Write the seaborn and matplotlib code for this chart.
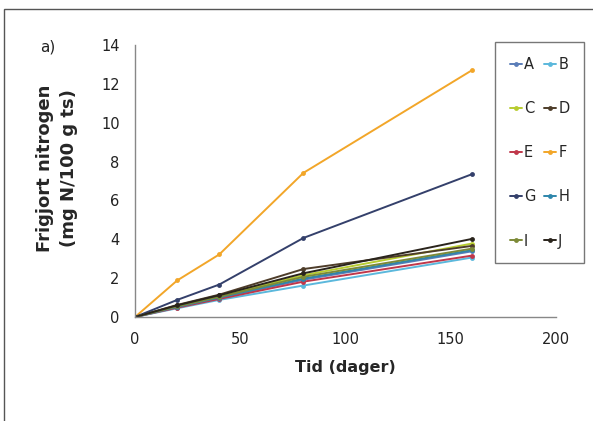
import pandas as pd
import matplotlib.pyplot as plt
import seaborn as sns
from matplotlib.patches import Rectangle

days = [0, 20, 40, 80, 160]
series_names = ["A", "B", "C", "D", "E", "F", "G", "H", "I", "J"]

A = [0, 0.50, 0.98, 1.92, 3.38]
B = [0, 0.45, 0.88, 1.62, 3.06]
C = [0, 0.58, 1.08, 2.15, 3.78]
D = [0, 0.62, 1.15, 2.47, 3.66]
E = [0, 0.48, 0.93, 1.82, 3.16]
F = [0, 1.88, 3.22, 7.42, 12.70]
G = [0, 0.88, 1.67, 4.07, 7.35]
H = [0, 0.52, 1.00, 1.98, 3.44]
I = [0, 0.55, 1.04, 2.07, 3.52]
J = [0, 0.60, 1.12, 2.25, 4.02]

colors = ["#5a7db8", "#5bb8dc", "#b8cc30", "#4e3d2a", "#c0374a",
          "#f2a629", "#34406b", "#2e86ab", "#7d8a38", "#2a241c"]

values = [A, B, C, D, E, F, G, H, I, J]
df = pd.DataFrame({
    "Tid": days * len(series_names),
    "N": [v for vals in values for v in vals],
    "serie": [s for s in series_names for _ in days],
})

sns.set_style("white")
plt.rcParams["font.family"] = ["DejaVu Sans"]

fig = plt.figure(figsize=(5.93, 4.21), dpi=100)
ax = fig.add_axes([0.2277, 0.247, 0.71, 0.646])

sns.lineplot(data=df, x="Tid", y="N", hue="serie", palette=colors,
             marker="o", markersize=3.5, markeredgewidth=0, linewidth=1.4,
             ax=ax)

ax.set_xlim(0, 200)
ax.set_ylim(0, 14)
ax.set_xticks(range(0, 201, 50))
ax.set_yticks(range(0, 15, 2))
ax.tick_params(axis="both", direction="out", length=5, width=1,
               color="#888888", labelsize=10.5, labelcolor="#222222", pad=6)
for side in ["top", "right"]:
    ax.spines[side].set_visible(False)
for side in ["left", "bottom"]:
    ax.spines[side].set_color("#888888")
    ax.spines[side].set_linewidth(1)

ax.set_xlabel("Tid (dager)", fontsize=11.5, fontweight="bold", labelpad=9)
ax.set_ylabel("Frigjort nitrogen\n(mg N/100 g ts)", fontsize=13,
              fontweight="bold", labelpad=17, linespacing=1.4)
ax.yaxis.label.set_y(0.548)

# legend filled row by row like the original (A B / C D / ...)
handles, labels = ax.get_legend_handles_labels()
order = [0, 2, 4, 6, 8, 1, 3, 5, 7, 9]
leg = ax.legend([handles[i] for i in order], [labels[i] for i in order],
                ncol=2, loc="upper left", bbox_to_anchor=(0.838, 1.037),
                frameon=True, fontsize=10.5, handlelength=0.85,
                handletextpad=0.12, columnspacing=0.6, labelspacing=2.0,
                borderpad=1.0, fancybox=False)
leg.get_frame().set_edgecolor("#777777")
leg.get_frame().set_linewidth(1)
leg.get_frame().set_alpha(1)

fig.text(40 / 593, 1 - 47 / 421, "a)", fontsize=11, color="#222222",
         va="center", ha="left")

# outer frame (left and top edges visible)
fig.patches.append(Rectangle((4 / 593, -0.05), 1.2, 1 - 9 / 421 + 0.05,
                             transform=fig.transFigure, fill=False,
                             edgecolor="#555555", linewidth=1))

fig.savefig("out.png", dpi=100)
